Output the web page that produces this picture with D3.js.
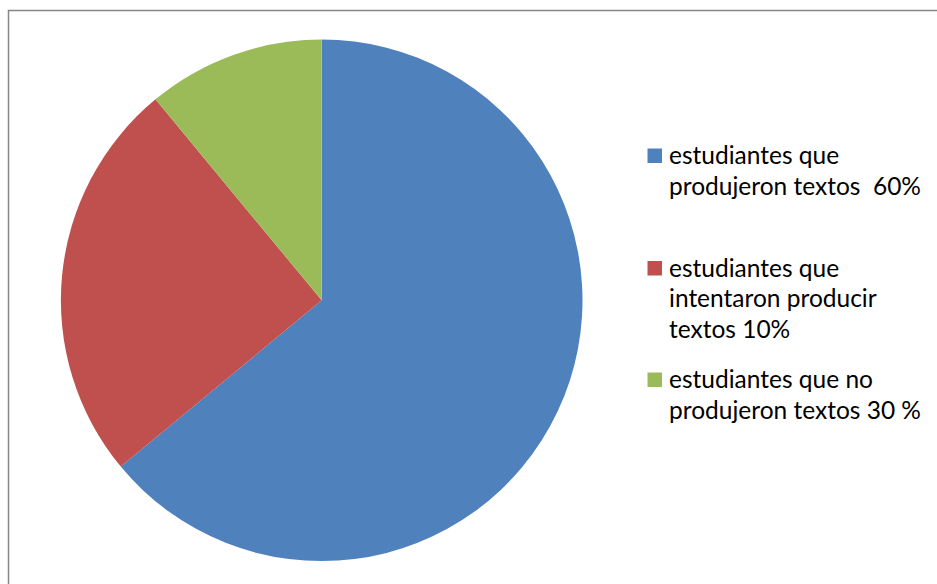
<!DOCTYPE html>
<meta charset="utf-8">
<style>
 body { margin: 0; background: #fff; }
 .frame { fill: none; stroke: #868686; stroke-width: 1.5; }
 text {
  font-family: Lato, "Open Sans", sans-serif;
  font-size: 24.5px;
  fill: #000;
  white-space: pre;
 }
</style>
<body>
  <div id="chart"></div>
  <script src="https://d3js.org/d3.v7.min.js"></script>
  <script>
(function(){

  var width = 937;
  var height = 584;

  // slice sizes as drawn in the picture (the legend labels say something else)
  var categories = ["produjeron", "intentaron", "no produjeron"];
  var values = [64, 25, 11];
  var colors = ["#4F81BD", "#C0504D", "#9BBB59"];
  var legendLines = [
    ["estudiantes que", "produjeron textos  60%"],
    ["estudiantes que", "intentaron producir", "textos 10%"],
    ["estudiantes que no", "produjeron textos 30 %"]
  ];
  var legendTop = [164, 276.5, 388];

  var svg = d3.select("#chart")
      .append("svg")
      .attr("width", width)
      .attr("height", height);

  // chart area border, only left and top are visible in the window
  svg.append("rect")
      .attr("class", "frame")
      .attr("x", 8.5)
      .attr("y", 10.5)
      .attr("width", width + 20)
      .attr("height", height + 20);

  var cx = 321.7, cy = 300.3, r = 260.8;

  var pie = d3.pie().sort(null).value(function(d) { return d; });
  var arc = d3.arc().innerRadius(0).outerRadius(r);
  var color = d3.scaleOrdinal().domain(categories).range(colors);

  svg.append("g")
      .attr("transform", "translate(" + cx + "," + cy + ")")
    .selectAll("path")
    .data(pie(values))
    .enter()
      .append("path")
      .attr("d", arc)
      .attr("fill", function(d, i) { return color(categories[i]); });

  var legend = svg.append("g").attr("class", "legend");
  var lineH = 30.8;

  var items = legend.selectAll("g")
      .data(legendLines)
      .enter()
      .append("g")
      .attr("transform", function(d, i) { return "translate(0," + legendTop[i] + ")"; });

  items.append("rect")
      .attr("x", 647.5)
      .attr("y", -15.5)
      .attr("width", 14.5)
      .attr("height", 14.5)
      .attr("fill", function(d, i) { return color(categories[i]); });

  items.selectAll("text")
      .data(function(d) { return d; })
      .enter()
      .append("text")
      .attr("x", 669)
      .attr("y", function(d, j) { return j * lineH; })
      .text(function(d) { return d; });

})();
  </script>
</body>
